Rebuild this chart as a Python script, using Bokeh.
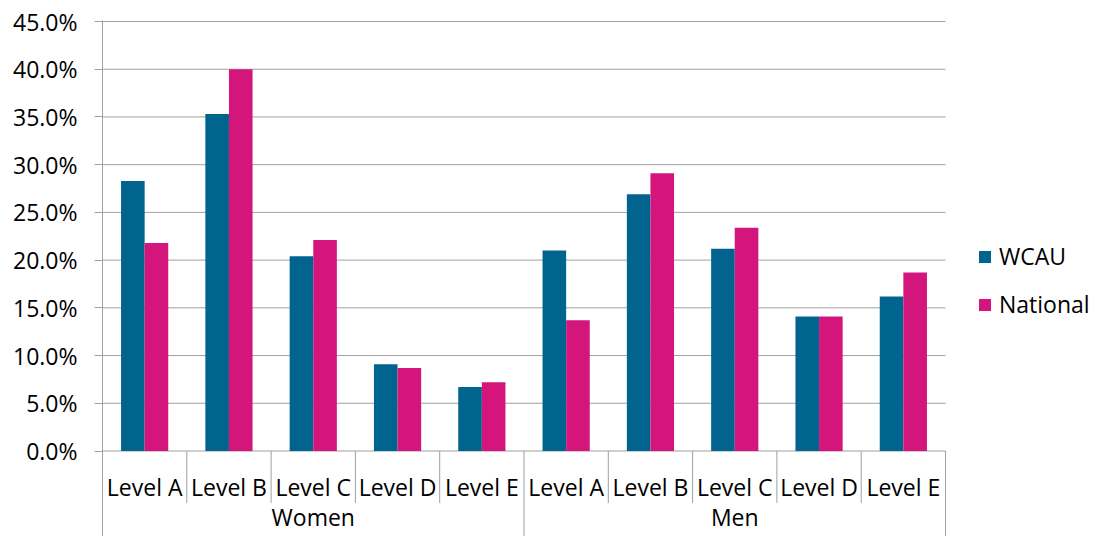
from bokeh.plotting import figure
from bokeh.models import (Range1d, FixedTicker, NumeralTickFormatter, ColumnDataSource,
                          Legend, LegendItem)
from bokeh.core.properties import value
from bokeh.embed import file_html
from bokeh.resources import INLINE

# ---------------- data ----------------
groups = ["Women", "Men"]
levels = ["Level A", "Level B", "Level C", "Level D", "Level E"]
wcau = [0.283, 0.353, 0.204, 0.091, 0.067,     # Women
        0.210, 0.269, 0.212, 0.141, 0.162]     # Men
national = [0.218, 0.400, 0.221, 0.087, 0.072,  # Women
            0.137, 0.291, 0.234, 0.141, 0.187]  # Men
y_ticks = [0.0, 0.05, 0.10, 0.15, 0.20, 0.25, 0.30, 0.35, 0.40, 0.45]

BLUE = "#00648F"
MAGENTA = "#D4167C"
GRID = "#A0A0A0"
FONT = "Open Sans"
FS = "23px"

W, H = 1091, 536
LEFT, TOP = 102, 20
n_cat = len(groups) * len(levels)
px_per_cat = 84.3
x_end = (W - LEFT) / px_per_cat
centers = [i + 0.5 for i in range(n_cat)]
bar_w = 0.28

frame_h = H - TOP
scale = 429.5 / 0.45          # px per unit
y_hi = 0.45 + 1 / scale
y_lo = y_hi - frame_h / scale

p = figure(width=W, height=H, output_backend="svg", toolbar_location=None,
           x_range=Range1d(0, x_end), y_range=Range1d(y_lo, y_hi),
           x_axis_location=None,
           min_border_left=LEFT, min_border_right=0, min_border_top=TOP, min_border_bottom=0)
p.outline_line_color = None
p.background_fill_color = "white"
p.border_fill_color = "white"
p.xgrid.visible = False
p.ygrid.visible = False

# y axis
yax = p.yaxis[0]
yax.ticker = FixedTicker(ticks=y_ticks)
yax.formatter = NumeralTickFormatter(format="0.0%")
yax.axis_line_color = GRID
yax.axis_line_width = 1
yax.major_tick_line_color = GRID
yax.major_tick_out = 8
yax.major_tick_in = 0
yax.minor_tick_line_color = None
yax.major_label_text_font = FONT
yax.major_label_text_font_size = FS
yax.major_label_text_color = "#000000"
yax.major_label_standoff = 17

# horizontal gridlines across the category area only
p.segment(x0=[0] * len(y_ticks), y0=y_ticks, x1=[n_cat] * len(y_ticks), y1=y_ticks,
          line_color=GRID, line_width=1)

# bars
src = ColumnDataSource(dict(
    xb=[c - bar_w / 2 for c in centers],
    xn=[c + bar_w / 2 for c in centers],
    wcau=wcau, national=national))
r1 = p.vbar(x="xb", top="wcau", bottom=0, width=bar_w, source=src,
            fill_color=BLUE, line_color=None)
r2 = p.vbar(x="xn", top="national", bottom=0, width=bar_w, source=src,
            fill_color=MAGENTA, line_color=None)

# category axis (two levels) drawn below the zero line
inner_end = -52 / scale
inner_x = [i for i in range(1, n_cat) if i % len(levels) != 0]
p.segment(x0=inner_x, y0=[0] * len(inner_x), x1=inner_x, y1=[inner_end] * len(inner_x),
          line_color=GRID, line_width=1)
group_x = [i * len(levels) for i in range(len(groups) + 1)]
p.segment(x0=group_x, y0=[0] * len(group_x), x1=group_x, y1=[y_lo] * len(group_x),
          line_color=GRID, line_width=1)

level_labels = levels * len(groups)
p.text(x=centers, y=[-36 / scale] * n_cat, text=level_labels,
       text_font=value(FONT), text_font_size=FS, text_color="#000000",
       text_align="center", text_baseline="alphabetic")
group_centers = [(i + 0.5) * len(levels) for i in range(len(groups))]
p.text(x=group_centers, y=[-66 / scale] * len(groups), text=groups,
       text_font=value(FONT), text_font_size=FS, text_color="#000000",
       text_align="center", text_baseline="alphabetic")

# legend
legend = Legend(items=[LegendItem(label="WCAU", renderers=[r1]),
                       LegendItem(label="National", renderers=[r2])],
                location=(875, 216), orientation="vertical",
                glyph_width=15, glyph_height=15, label_standoff=7,
                spacing=16, padding=0, margin=0, border_line_color=None,
                background_fill_alpha=0,
                label_text_font=FONT, label_text_font_size=FS,
                label_text_color="#000000", label_height=30)
p.add_layout(legend, "center")

open("out.html", "w").write(file_html(p, INLINE))
